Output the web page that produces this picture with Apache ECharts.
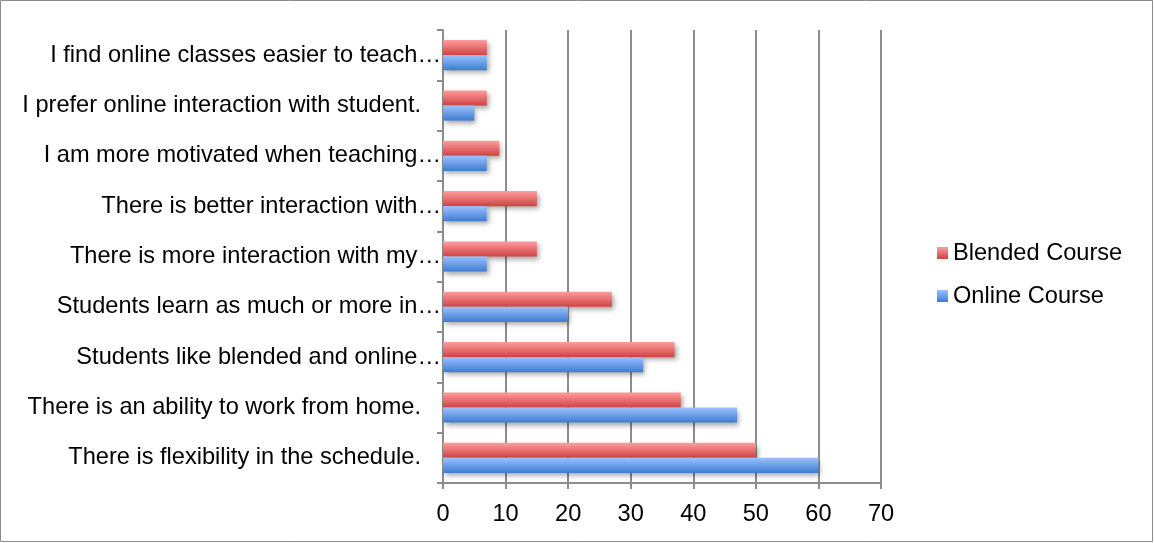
<!DOCTYPE html>
<html>
<head>
<meta charset="utf-8">
<script src="https://cdn.jsdelivr.net/npm/echarts@6/dist/echarts.min.js"></script>
<style>
  html, body { margin: 0; padding: 0; background: #fff; }
  #chart { width: 1154px; height: 543px; }
</style>
</head>
<body>
<div id="chart"></div>
<script>
// Survey statements, bottom to top; truncated ones carry their ellipsis
const categories = [
  'There is flexibility in the schedule.',
  'There is an ability to work from home.',
  'Students like blended and online…',
  'Students learn as much or more in…',
  'There is more interaction with my…',
  'There is better interaction with…',
  'I am more motivated when teaching…',
  'I prefer online interaction with student.',
  'I find online classes easier to teach…'
];
const blendedCourse = [50, 38, 37, 27, 15, 15, 9, 7, 7];
const onlineCourse = [60, 47, 32, 20, 7, 7, 7, 5, 7];
const xTicks = { min: 0, max: 70, interval: 10 };

const font = 'Liberation Sans, Arial, sans-serif';
const fontSize = 23.6;

function grad(top, bottom) {
  return new echarts.graphic.LinearGradient(0, 0, 0, 1, [
    { offset: 0, color: top },
    { offset: 1, color: bottom }
  ]);
}
const barShadow = {
  shadowColor: 'rgba(0,0,0,0.35)',
  shadowBlur: 5,
  shadowOffsetX: 2,
  shadowOffsetY: 3
};

const chart = echarts.init(document.getElementById('chart'));
chart.setOption({
  animation: false,
  textStyle: { fontFamily: font },
  graphic: [{
    type: 'rect',
    shape: { x: 0.5, y: 0.5, width: 1152, height: 541 },
    style: { fill: 'none', stroke: '#8c8c8c', lineWidth: 1 },
    silent: true
  }],
  grid: { left: 443, right: 273, top: 30, bottom: 60 },
  legend: {
    orient: 'vertical',
    left: 932,
    top: 236,
    itemWidth: 11,
    itemHeight: 12,
    itemGap: 19,
    icon: 'rect',
    data: ['Blended Course', 'Online Course'],
    textStyle: { fontSize: fontSize, color: '#000', fontFamily: font }
  },
  xAxis: {
    type: 'value',
    min: xTicks.min,
    max: xTicks.max,
    interval: xTicks.interval,
    axisLine: { show: true, lineStyle: { color: '#8c8c8c', width: 2 } },
    axisTick: { show: true, length: 6, lineStyle: { color: '#8c8c8c', width: 2 } },
    axisLabel: { fontSize: fontSize, color: '#000', margin: 19, fontFamily: font },
    splitLine: { show: true, lineStyle: { color: '#8c8c8c', width: 2 } }
  },
  yAxis: {
    type: 'category',
    data: categories,
    axisLine: { show: true, lineStyle: { color: '#8c8c8c', width: 2 } },
    axisTick: { show: true, length: 6, lineStyle: { color: '#8c8c8c', width: 2 } },
    axisLabel: {
      fontSize: fontSize,
      color: '#000',
      margin: 2,
      fontFamily: font,
      formatter: function (v) {
        // labels ending in an ellipsis run closer to the axis
        return v.endsWith('…') ? '{t|' + v + '}' : '{t|' + v + '}{s|}';
      },
      rich: {
        t: { fontSize: fontSize, color: '#000', fontFamily: font },
        s: { width: 20 }
      }
    }
  },
  series: [
    {
      name: 'Blended Course',
      type: 'bar',
      data: blendedCourse,
      barGap: '0%',
      barCategoryGap: '40%',
      itemStyle: Object.assign({ color: grad('#ff9d9d', '#cf4343') }, barShadow)
    },
    {
      name: 'Online Course',
      type: 'bar',
      data: onlineCourse,
      barGap: '0%',
      barCategoryGap: '40%',
      itemStyle: Object.assign({ color: grad('#9cc1ff', '#3d7ccf') }, barShadow)
    }
  ]
});
</script>
</body>
</html>
